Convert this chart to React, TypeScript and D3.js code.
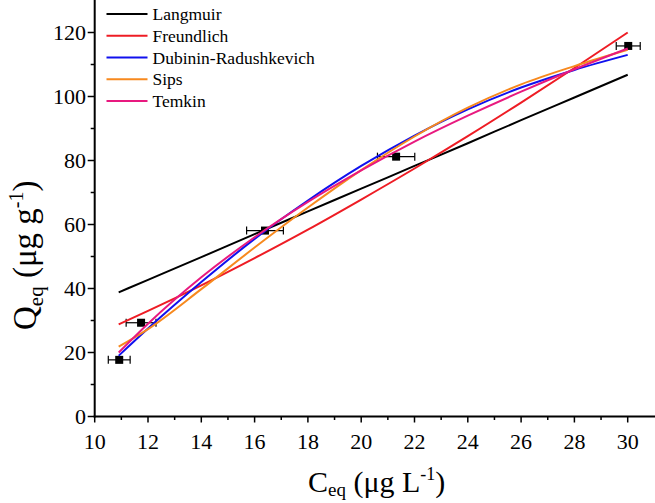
import React from "react";
import * as d3 from "d3";

const W = 655;
const H = 503;

const xTicks = [10, 12, 14, 16, 18, 20, 22, 24, 26, 28, 30];
const yTicks = [0, 20, 40, 60, 80, 100, 120];

const ptC = [10.92, 11.74, 16.39, 21.31, 30.02];
const ptQ = [17.7, 29.3, 58.1, 81.2, 115.8];
const ptErr = [0.41, 0.56, 0.69, 0.7, 0.45];

const fitC = [10.9, 12, 14, 16, 18, 20, 22, 24, 26, 28, 30];
const langmuir = [38.8, 42.7, 49.8, 57.0, 64.1, 71.2, 78.3, 85.4, 92.6, 99.7, 106.8];
const freundlich = [28.8, 33.0, 41.0, 49.5, 58.4, 67.8, 77.5, 87.6, 98.1, 108.9, 120.0];
const dubinin = [19.0, 27.5, 42.0, 55.5, 67.5, 78.3, 87.8, 96.0, 102.8, 108.3, 113.0];
const sips = [21.8, 27.3, 39.8, 52.8, 65.3, 77.0, 87.5, 96.5, 103.8, 109.5, 114.6];
const temkin = [20.0, 29.0, 43.5, 56.0, 67.05, 76.9, 85.9, 94.0, 101.5, 108.5, 115.0];

const seriesNames = ["Langmuir", "Freundlich", "Dubinin-Radushkevich", "Sips", "Temkin"];
const seriesData = [langmuir, freundlich, dubinin, sips, temkin];
const seriesColors = ["#000000", "#ee1c24", "#1010ee", "#f7891e", "#e8197f"];

const FONT = "Liberation Serif";
const CSS = `svg text, svg tspan { font-family: "Liberation Serif", "Times New Roman", serif !important; }`;

export default function App() {
  const x = d3.scaleLinear().domain([10, 31]).range([94.7, 654.35]);
  const y = d3.scaleLinear().domain([0, 130]).range([416.5, 0.5]);

  const minorX = d3.range(11, 31, 2);
  const minorY = d3.range(10, 130, 20);

  const line = d3
    .line<[number, number]>()
    .x((d) => x(d[0]))
    .y((d) => y(d[1]))
    .curve(d3.curveMonotoneX);

  return (
    <div style={{ position: "absolute", left: 0, top: 0, width: W, height: H }}>
      <style>{CSS}</style>
      <svg width={W} height={H} style={{ display: "block" }}>
        <style>{CSS}</style>
        <rect x={0} y={0} width={W} height={H} fill="#fff" />
        <line x1={x(10)} x2={x(10)} y1={0} y2={y(0) + 1} stroke="#000" strokeWidth={2} />
        <line x1={x(10) - 1} x2={W} y1={y(0)} y2={y(0)} stroke="#000" strokeWidth={2} />
        {xTicks.map((t) => (
          <line key={"xtl" + t} x1={x(t)} x2={x(t)} y1={y(0)} y2={y(0) + 6} stroke="#000" strokeWidth={1.5} />
        ))}
        {xTicks.map((t) => (
          <text key={"xt" + t} x={x(t)} y={449} fontSize={22} textAnchor="middle" fill="#000" fontFamily={FONT}>
            {String(t)}
          </text>
        ))}
        {minorX.map((t) => (
          <line key={"xm" + t} x1={x(t)} x2={x(t)} y1={y(0)} y2={y(0) + 3.5} stroke="#000" strokeWidth={1.5} />
        ))}
        {yTicks.map((t) => (
          <line key={"ytl" + t} x1={x(10) - 7} x2={x(10)} y1={y(t)} y2={y(t)} stroke="#000" strokeWidth={1.5} />
        ))}
        {yTicks.map((t) => (
          <text key={"yt" + t} x={86} y={y(t) + 7.5} fontSize={22} textAnchor="end" fill="#000" fontFamily={FONT}>
            {String(t)}
          </text>
        ))}
        {minorY.map((t) => (
          <line key={"ym" + t} x1={x(10) - 4} x2={x(10)} y1={y(t)} y2={y(t)} stroke="#000" strokeWidth={1.5} />
        ))}

        {ptC.map((c, i) => (
          <g key={"p" + i}>
            <line x1={x(c - ptErr[i])} x2={x(c + ptErr[i])} y1={y(ptQ[i])} y2={y(ptQ[i])} stroke="#000" strokeWidth={1.2} />
            <line x1={x(c - ptErr[i])} x2={x(c - ptErr[i])} y1={y(ptQ[i]) - 4} y2={y(ptQ[i]) + 4} stroke="#000" strokeWidth={1.2} />
            <line x1={x(c + ptErr[i])} x2={x(c + ptErr[i])} y1={y(ptQ[i]) - 4} y2={y(ptQ[i]) + 4} stroke="#000" strokeWidth={1.2} />
            <rect x={x(c) - 4} y={y(ptQ[i]) - 4} width={8} height={8} fill="#000" />
          </g>
        ))}

        {seriesData.map((vals, si) => (
          <path
            key={"s" + si}
            d={line(fitC.map((c, i) => [c, vals[i]] as [number, number])) || ""}
            fill="none"
            stroke={seriesColors[si]}
            strokeWidth={2}
          />
        ))}

        {seriesNames.map((n, i) => (
          <line key={"ll" + i} x1={106.5} x2={147.5} y1={14 + i * 21.75} y2={14 + i * 21.75} stroke={seriesColors[i]} strokeWidth={2} />
        ))}
        {seriesNames.map((n, i) => (
          <text key={"lt" + i} x={152.5} y={20 + i * 21.75} fontSize={17.5} fill="#000" fontFamily={FONT}>
            {n}
          </text>
        ))}

        <text x={308} y={492} fontSize={30} fill="#000" fontFamily={FONT}>
          C
          <tspan fontSize={19} dy={4}>eq</tspan>
          <tspan fontSize={30} dy={-4}> (μg L</tspan>
          <tspan fontSize={18} dy={-12}>-1</tspan>
          <tspan fontSize={30} dy={12}>)</tspan>
        </text>
        <text transform="translate(36,330) rotate(-90)" x={0} y={0} fontSize={33} fill="#000" fontFamily={FONT}>
          Q
          <tspan fontSize={21} dy={7}>eq</tspan>
          <tspan fontSize={33} dy={-7}> (μg g</tspan>
          <tspan fontSize={20} dy={-13}>-1</tspan>
          <tspan fontSize={33} dy={13}>)</tspan>
        </text>
      </svg>
    </div>
  );
}
